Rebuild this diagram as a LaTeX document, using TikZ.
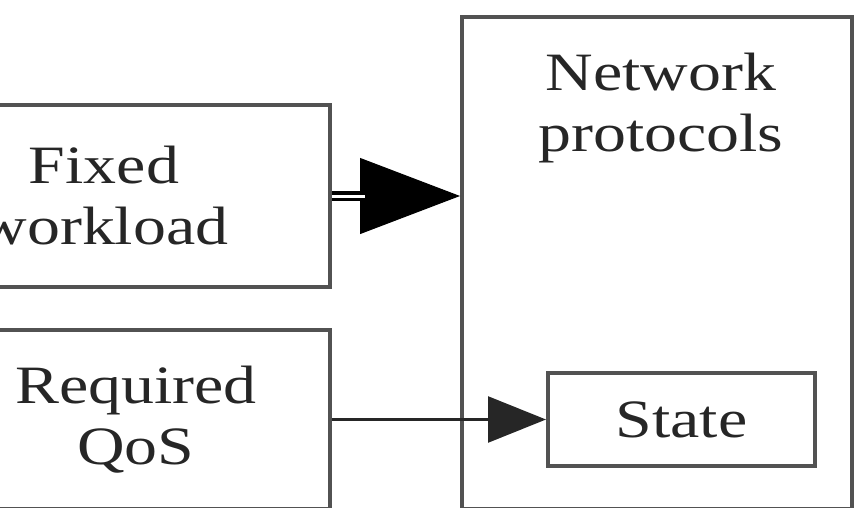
\documentclass[tikz,border=0pt]{standalone}
\usepackage{fontspec}
\setmainfont[FakeStretch=1.22]{Liberation Serif}
\usetikzlibrary{arrows.meta}

\begin{document}
\begin{tikzpicture}[x=1pt,y=-1pt]
	\tikzstyle{every node}=[inner sep=0pt, align=center, text=black!85, font=\fontsize{54}{61}\selectfont]
	\tikzstyle{box}=[draw=black!68, line width=4pt]
	\useasboundingbox (0,0) rectangle (856,508);
	\clip (0,0) rectangle (856,508);
	\draw (104,196) node (fw) [box, minimum width=452pt, minimum height=182pt] {Fixed\\workload};
	\draw (136,419.5) node (qos) [box, minimum width=388pt, minimum height=179pt] {Required\\QoS};
	\draw (657,263) node (net) [box, minimum width=390pt, minimum height=492pt] {};
	\draw (661,53) node (nt) [anchor=north] {Network\\protocols};
	\draw (681.5,419.5) node (st) [box, minimum width=267pt, minimum height=93pt] {State};
	\draw[-{Triangle[length=100pt,width=76pt]}, line width=1pt] (fw.east) -- (net.west |- fw.east);
	\draw[line width=3.5pt, double, double distance=3pt, shorten >=95pt] (fw.east) -- (net.west |- fw.east);
	\draw[-{Triangle[length=58pt,width=46pt]}, line width=2.5pt, black!85] (qos.east |- st.west) -- (st.west);
\end{tikzpicture}
\end{document}
